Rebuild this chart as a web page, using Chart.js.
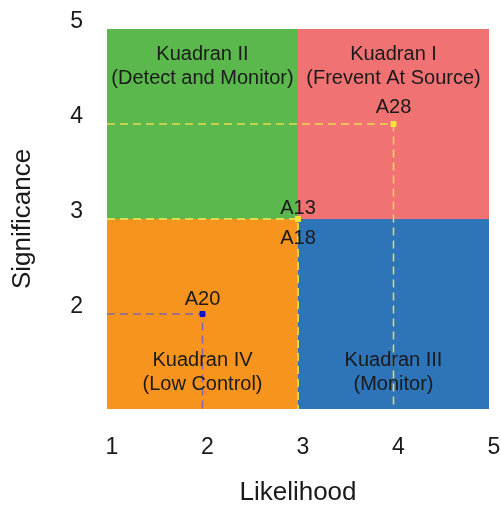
<!DOCTYPE html>
<html>
<head>
<meta charset="utf-8">
<script src="https://cdn.jsdelivr.net/npm/chart.js@4"></script>
<style>
  html, body { margin: 0; padding: 0; background: #fff; }
  #wrap { width: 501px; height: 507px; }
</style>
</head>
<body>
<div id="wrap"><canvas id="graph" width="501" height="507"></canvas></div>
<script>
// axis ticks
const xTicks = [1, 2, 3, 4, 5];
const yTicks = [2, 3, 4, 5];
const splitY = 3;

// quadrants
const quadNames = ['Kuadran I', 'Kuadran II', 'Kuadran III', 'Kuadran IV'];
const quadDescs = ['(Frevent At Source)', '(Detect and Monitor)', '(Monitor)', '(Low Control)'];
const quadFrom = [3, 1, 3, 1];
const quadTo = [5, 3, 5, 3];
const quadUpper = [true, true, false, false];

// risks
const risks = ['A28', 'A13', 'A18', 'A20'];
const likelihood = [4, 3, 3, 2];
const significance = [4, 3, 3, 2];

// styles
const quadColors = ['#f07273', '#5bb84d', '#2e74b9', '#f7941d'];
const riskColors = ['#f2e43a', '#f2e43a', '#f2e43a', '#1414c8'];
const lineColors = ['#e8dc50', '#e8dc50', '#e8dc50', '#8466a8'];
const labelDy = [-17, -11, 19, -15];
const FONT = "'Liberation Sans', Arial, sans-serif";

const datasets = [];
quadNames.forEach((q, i) => {
  datasets.push({
    label: q,
    data: [{ x: quadFrom[i], y: splitY }, { x: quadTo[i], y: splitY }],
    showLine: true,
    fill: quadUpper[i] ? 'end' : 'start',
    backgroundColor: quadColors[i],
    borderWidth: 0,
    pointRadius: 0,
    order: 3
  });
});
risks.forEach((r, i) => {
  datasets.push({
    label: r + ' line',
    data: [{ x: 1, y: significance[i] }, { x: likelihood[i], y: significance[i] }, { x: likelihood[i], y: 1 }],
    showLine: true,
    fill: false,
    borderColor: lineColors[i],
    borderWidth: 1.5,
    borderDash: [8, 5],
    pointRadius: 0,
    order: 2
  });
  datasets.push({
    label: r,
    data: [{ x: likelihood[i], y: significance[i] }],
    pointStyle: 'rect',
    pointRadius: 3.5,
    backgroundColor: riskColors[i],
    borderColor: riskColors[i],
    order: 1
  });
});

const textPlugin = {
  id: 'texts',
  afterDatasetsDraw(c) {
    const ctx = c.ctx, xs = c.scales.x, ys = c.scales.y, area = c.chartArea;
    ctx.save();
    ctx.fillStyle = '#1a1a1a';
    ctx.textAlign = 'center';
    ctx.textBaseline = 'middle';
    ctx.font = '20px ' + FONT;
    quadNames.forEach((q, i) => {
      const cx = xs.getPixelForValue((quadFrom[i] + quadTo[i]) / 2);
      const y1 = quadUpper[i] ? area.top + 25 : area.bottom - 49;
      ctx.fillText(q, cx, y1);
      ctx.fillText(quadDescs[i], cx, y1 + 24);
    });
    risks.forEach((r, i) => {
      const px = xs.getPixelForValue(likelihood[i]);
      const py = ys.getPixelForValue(significance[i]);
      ctx.fillText(r, px, py + labelDy[i]);
    });
    ctx.restore();
  }
};

const chart = new Chart(document.getElementById('graph').getContext('2d'), {
  type: 'scatter',
  data: { datasets: datasets },
  options: {
    responsive: false,
    animation: false,
    devicePixelRatio: 1,
    layout: { padding: { left: 3, right: 12, top: 29, bottom: 0 } },
    plugins: { legend: { display: false }, tooltip: { enabled: false } },
    scales: {
      x: {
        type: 'linear', min: 1, max: 5,
        grid: { display: false, drawTicks: false },
        border: { display: false },
        afterBuildTicks: s => { s.ticks = xTicks.map(v => ({ value: v })); },
        afterFit: s => { s.height = 98; s.paddingLeft = 0; s.paddingRight = 0; },
        ticks: { padding: 25, labelOffset: 5, color: '#1a1a1a', font: { family: FONT, size: 23 } },
        title: { display: true, text: 'Likelihood', color: '#1a1a1a', padding: { top: 16, bottom: 0 }, font: { family: FONT, size: 26, lineHeight: 1.1 } }
      },
      y: {
        type: 'linear', min: 1, max: 5,
        grid: { display: false, drawTicks: false },
        border: { display: false },
        afterBuildTicks: s => { s.ticks = yTicks.map(v => ({ value: v })); },
        afterFit: s => { s.width = 104; s.paddingTop = 0; s.paddingBottom = 0; },
        ticks: { padding: 24, labelOffset: -7, color: '#1a1a1a', font: { family: FONT, size: 23 } },
        title: { display: true, text: 'Significance', color: '#1a1a1a', padding: { top: 4, bottom: 33 }, font: { family: FONT, size: 26 } }
      }
    }
  },
  plugins: [textPlugin]
});
</script>
</body>
</html>
